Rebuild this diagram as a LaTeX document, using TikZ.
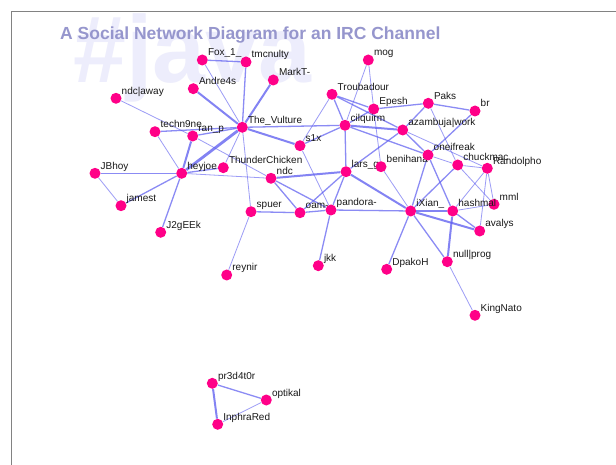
\documentclass[tikz,border=0pt]{standalone}
\usepackage{fontspec}
\setmainfont{Liberation Sans}
\usetikzlibrary{calc}
\pgfdeclarelayer{bg}
\pgfdeclarelayer{wm}
\pgfsetlayers{wm,bg,main}
\definecolor{dotc}{RGB}{255,0,136}
\definecolor{edgec}{RGB}{90,90,240}
\definecolor{titlec}{RGB}{150,150,205}
\definecolor{wmc}{RGB}{237,237,252}
\definecolor{labc}{RGB}{25,25,25}
\definecolor{framec}{RGB}{130,130,130}
\tikzset{
  dot/.style={circle,fill=dotc,draw=none,minimum size=11pt,inner sep=0pt},
  lab/.style={anchor=base west,inner sep=0pt,text=labc,font=\fontsize{10}{11}\selectfont},
  ea/.style={draw=edgec,line width=0.8pt,draw opacity=0.6},
  eb/.style={draw=edgec,line width=1.3pt,draw opacity=0.7},
  ec/.style={draw=edgec,line width=2.0pt,draw opacity=0.75},
  ed/.style={draw=edgec,line width=2.8pt,draw opacity=0.75},
}
\newcommand\pn[4]{\node[dot] (#1) at (#2,#3) {}; \node[lab] (#1-l) at ([shift={(5.5,-4)}]#1.center) {#4};}
\begin{document}
\begin{tikzpicture}[x=1pt,y=-1pt]
\useasboundingbox (0,0) rectangle (616,465);
\begin{pgfonlayer}{wm}
\fill[white] (0,0) rectangle (616,465);
\node[anchor=base west,inner sep=0pt,text=wmc,font=\bfseries\fontsize{95}{95}\selectfont] (wm) at (73,83) {\#java};
\end{pgfonlayer}
\coordinate (f1) at (11,465);
\coordinate (f2) at (11,11);
\coordinate (f3) at (616,11);
\draw[framec,line width=0.8pt] (f1) -- (f2) -- (f3);
\node[anchor=base west,inner sep=0pt,text=titlec,font=\bfseries\fontsize{17.5}{18}\selectfont] (title) at (60,40) {A Social Network Diagram for an IRC Channel};
% nodes
\pn{fox}{202.3}{60}{Fox\_1\_}
\pn{tmc}{246}{62}{tmcnulty}
\pn{andre}{193.3}{88.7}{Andre4s}
\pn{markt}{273.3}{80}{MarkT-}
\pn{ndca}{116}{98.3}{ndc|away}
\pn{tv}{242.3}{127.3}{The\_Vulture}
\pn{tech}{155}{131.7}{techn9ne}
\pn{ranp}{192.7}{136}{ran\_p}
\pn{hey}{181.7}{173.3}{heyjoe}
\pn{thc}{223.3}{167.7}{ThunderChicken}
\pn{jb}{95}{173.3}{JBhoy}
\pn{jam}{121}{205.7}{jamest}
\pn{j2g}{160.7}{232.3}{J2gEEk}
\pn{ndc}{271}{178.3}{ndc}
\pn{spuer}{251}{211.7}{spuer}
\pn{rey}{226.7}{275}{reynir}
\pn{oam}{300}{212.7}{oam-}
\pn{pan}{331}{210}{pandora-}
\pn{jkk}{318.3}{265.7}{jkk}
\pn{s1x}{300}{145.7}{s1x}
\pn{mog}{368.3}{60}{mog}
\pn{trou}{332}{94.3}{Troubadour}
\pn{epesh}{373.7}{109}{Epesh}
\pn{cil}{345}{125.3}{cilquirm}
\pn{aza}{402.7}{130}{azambuja|work}
\pn{paks}{428.3}{103.3}{Paks}
\pn{br}{475}{111}{br}
\pn{lars}{346}{171.7}{lars\_g}
\pn{beni}{381}{166.7}{benihana}
\pn{onei}{428}{155}{oneifreak}
\pn{chuck}{457.7}{165}{chuckmac}
\pn{rand}{487.3}{168.3}{Randolpho}
\pn{mml}{494}{204.3}{mml}
\pn{hash}{452.7}{211}{hashmal}
\pn{ava}{479.7}{231}{avalys}
\pn{ixian}{410.7}{211}{iXian\_}
\pn{dpako}{386.7}{269.3}{DpakoH}
\pn{null}{447.3}{261.7}{null|prog}
\pn{king}{475}{315.3}{KingNato}
\pn{pr3}{212.3}{383.3}{pr3d4t0r}
\pn{opt}{266.3}{400}{optikal}
\pn{inph}{217.7}{424.3}{InphraRed}
\begin{pgfonlayer}{bg}
\draw[eb] (fox) -- (tmc);
\draw[ea] (fox) -- (tv);
\draw[eb] (tmc) -- (tv);
\draw[ec] (andre) -- (tv);
\draw[ec] (markt) -- (tv);
\draw[ea] (ndca) -- (ranp);
\draw[ea] (ranp) -- (ndc);
\draw[eb] (tech) -- (tv);
\draw[ea] (tech) -- (hey);
\draw[eb] (ranp) -- (tv);
\draw[ec] (ranp) -- (hey);
\draw[ed] (hey) -- (tv);
\draw[ea] (thc) -- (tv);
\draw[eb] (hey) -- (thc);
\draw[ea] (hey) -- (ndc);
\draw[eb] (jb) -- (hey);
\draw[ea] (jb) -- (jam);
\draw[eb] (jam) -- (hey);
\draw[eb] (j2g) -- (hey);
\draw[ea] (tv) -- (spuer);
\draw[ea] (spuer) -- (rey);
\draw[eb] (spuer) -- (oam);
\draw[ec] (tv) -- (s1x);
\draw[eb] (tv) -- (cil);
\draw[ec] (ndc) -- (lars);
\draw[eb] (ndc) -- (oam);
\draw[eb] (ndc) -- (pan);
\draw[eb] (oam) -- (pan);
\draw[eb] (pan) -- (ixian);
\draw[eb] (lars) -- (oam);
\draw[eb] (lars) -- (pan);
\draw[ea] (s1x) -- (pan);
\draw[eb] (pan) -- (jkk);
\draw[eb] (s1x) -- (cil);
\draw[ea] (s1x) -- (trou);
\draw[eb] (trou) -- (cil);
\draw[eb] (trou) -- (epesh);
\draw[eb] (trou) -- (aza);
\draw[ea] (mog) -- (cil);
\draw[ea] (mog) -- (epesh);
\draw[eb] (epesh) -- (cil);
\draw[eb] (epesh) -- (paks);
\draw[ea] (epesh) -- (beni);
\draw[ec] (cil) -- (aza);
\draw[eb] (cil) -- (lars);
\draw[eb] (cil) -- (onei);
\draw[eb] (aza) -- (paks);
\draw[eb] (aza) -- (onei);
\draw[ea] (aza) -- (rand);
\draw[eb] (paks) -- (br);
\draw[ea] (paks) -- (chuck);
\draw[eb] (br) -- (onei);
\draw[eb] (lars) -- (aza);
\draw[ec] (lars) -- (ixian);
\draw[ea] (beni) -- (ixian);
\draw[eb] (onei) -- (ixian);
\draw[eb] (onei) -- (hash);
\draw[ea] (onei) -- (chuck);
\draw[ea] (chuck) -- (rand);
\draw[ea] (chuck) -- (mml);
\draw[eb] (chuck) -- (ixian);
\draw[ea] (rand) -- (mml);
\draw[ea] (rand) -- (hash);
\draw[ea] (rand) -- (ava);
\draw[ec] (ixian) -- (hash);
\draw[ea] (hash) -- (mml);
\draw[ec] (ixian) -- (ava);
\draw[eb] (ixian) -- (dpako);
\draw[eb] (ixian) -- (null);
\draw[ec] (hash) -- (null);
\draw[eb] (hash) -- (ava);
\draw[ea] (null) -- (king);
\draw[eb] (pr3) -- (opt);
\draw[ec] (pr3) -- (inph);
\draw[ea] (opt) -- (inph);
\end{pgfonlayer}
\end{tikzpicture}
\end{document}
